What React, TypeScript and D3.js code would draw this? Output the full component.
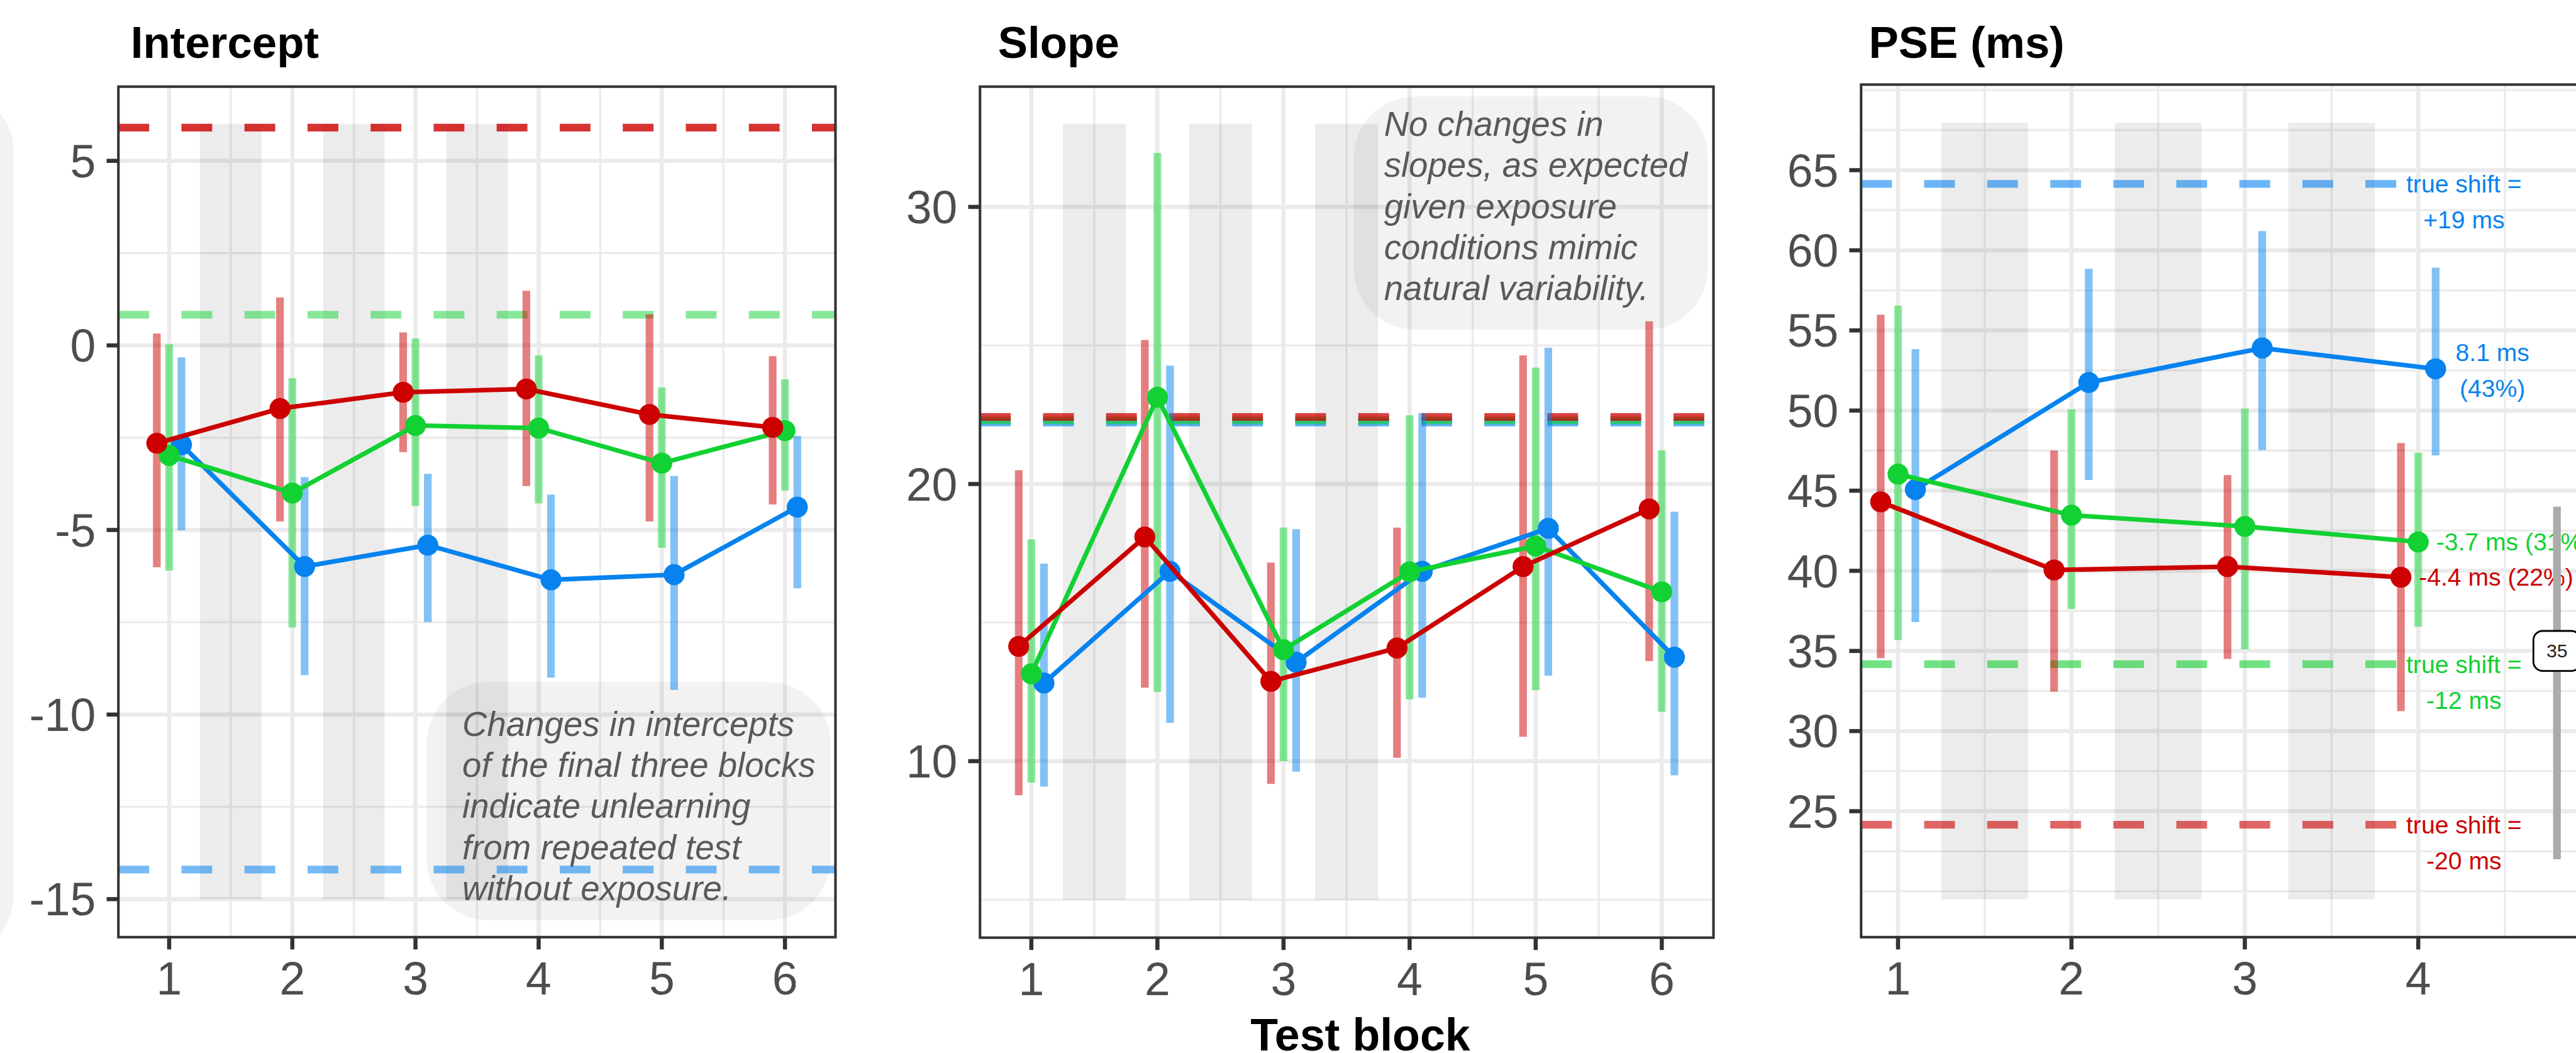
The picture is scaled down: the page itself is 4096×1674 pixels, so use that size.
import React from "react";
import * as d3 from "d3";

// reference is 5024 x 2053, drawn at 0.815
const SCALE = 0.815;
const FONT = "'Liberation Sans', Arial, Helvetica, sans-serif";

const testBlocks = [1, 2, 3, 4, 5, 6];
const pseBlocks = [1, 2, 3, 4];
const exposureAfter = [1, 2, 3];
const xTicks6 = [1, 2, 3, 4, 5, 6];
const xTicks4 = [1, 2, 3, 4];

const seriesKeys = ["red", "green", "blue"];
const seriesColors = ["#CC0000", "#12D133", "#0683EE"];
const seriesDodge = [-0.1, 0, 0.1];

// [estimate, lower, upper] for every test block
const interceptRed = [[-2.65, -6.01, 0.32], [-1.71, -4.77, 1.3], [-1.27, -2.89, 0.35], [-1.18, -3.81, 1.48], [-1.87, -4.77, 0.84], [-2.22, -4.31, -0.29]];
const interceptGreen = [[-2.98, -6.1, 0.03], [-4.0, -7.64, -0.89], [-2.17, -4.35, 0.19], [-2.24, -4.28, -0.27], [-3.19, -5.48, -1.14], [-2.31, -3.93, -0.92]];
const interceptBlue = [[-2.69, -5.01, -0.32], [-5.99, -8.93, -3.57], [-5.41, -7.49, -3.48], [-6.35, -9.0, -4.04], [-6.21, -9.33, -3.54], [-4.38, -6.58, -2.45]];
const interceptTrue = [5.9, 0.83, -14.2];
const interceptYTicks = [5, 0, -5, -10, -15];
const interceptYMinor = [2.5, -2.5, -7.5, -12.5];
const interceptNote = ["Changes in intercepts", "of the final three blocks", "indicate unlearning", "from repeated test", "without exposure."];

const slopeRed = [[14.14, 8.77, 20.5], [18.09, 12.65, 25.2], [12.88, 9.18, 17.17], [14.08, 10.12, 18.43], [17.02, 10.88, 24.64], [19.1, 13.61, 25.87]];
const slopeGreen = [[13.15, 9.23, 18.0], [23.13, 12.5, 31.95], [14.02, 10.0, 18.43], [16.83, 12.23, 22.48], [17.76, 12.56, 24.2], [16.11, 11.78, 21.22]];
const slopeBlue = [[12.82, 9.08, 17.13], [16.85, 11.38, 24.27], [13.57, 9.62, 18.37], [16.85, 12.29, 22.56], [18.4, 13.08, 24.92], [13.75, 9.49, 19.0]];
const slopeTrue = [22.42, 22.3, 22.22];
const slopeYTicks = [30, 20, 10];
const slopeYMinor = [25, 15, 5];
const slopeNote = ["No changes in", "slopes, as expected", "given exposure", "conditions mimic", "natural variability."];

const pseRed = [[44.3, 34.55, 55.98], [40.05, 32.46, 47.5], [40.26, 34.5, 45.97], [39.6, 31.24, 47.98]];
const pseGreen = [[46.03, 35.68, 56.55], [43.47, 37.62, 50.08], [42.77, 35.1, 50.12], [41.8, 36.5, 47.37]];
const pseBlue = [[45.07, 36.8, 53.83], [51.75, 45.67, 58.85], [53.9, 47.53, 61.2], [52.6, 47.2, 58.92]];
const pseTrue = [24.15, 34.17, 64.14];
const pseTrueLabels = [["true shift =", "-20 ms"], ["true shift =", "-12 ms"], ["true shift =", "+19 ms"]];
const pseShiftLabels = [["-4.4 ms (22%)"], ["-3.7 ms (31%)"], ["8.1 ms", "(43%)"]];
const pseYTicks = [65, 60, 55, 50, 45, 40, 35, 30, 25];
const pseYMinor = [70, 67.5, 62.5, 57.5, 52.5, 47.5, 42.5, 37.5, 32.5, 27.5, 22.5, 20];
const pseTrueEnd = 3.9;
const pseMarker = { x: 4.8, y: 35, from: 44, to: 22, label: "35" };

const panels = [
  {
    id: "int", title: "Intercept", titleX: 255,
    left: 231, right: 1630, top: 169, bottom: 1828,
    xDomain: [0.588, 6.41], yDomain: [-16.03, 7.01],
    blocks: testBlocks, xTicks: xTicks6, xGrid: [1, 2, 3, 4, 5, 6], xMinor: [1.5, 2.5, 3.5, 4.5, 5.5],
    yTicks: interceptYTicks, yMinor: interceptYMinor, band: [-15, 6],
    rows: [interceptRed, interceptGreen, interceptBlue], trueVals: interceptTrue,
    dashOpacity: [0.8, 0.5, 0.55], trueEnd: null,
    note: { lines: interceptNote, x0: 3.09, x1: 6.37, y0: -15.57, y1: -9.12, tx: 3.38, ty: -10.58 },
  },
  {
    id: "slope", title: "Slope", titleX: 1947,
    left: 1912, right: 3343, top: 169, bottom: 1829,
    xDomain: [0.593, 6.41], yDomain: [3.63, 34.34],
    blocks: testBlocks, xTicks: xTicks6, xGrid: [1, 2, 3, 4, 5, 6], xMinor: [1.5, 2.5, 3.5, 4.5, 5.5],
    yTicks: slopeYTicks, yMinor: slopeYMinor, band: [5, 33],
    rows: [slopeRed, slopeGreen, slopeBlue], trueVals: slopeTrue,
    dashOpacity: [0.75, 0.65, 0.65], trueEnd: null,
    note: { lines: slopeNote, x0: 3.557, x1: 6.366, y0: 25.57, y1: 33.99, tx: 3.797, ty: 32.56 },
  },
  {
    id: "pse", title: "PSE (ms)", titleX: 3646,
    left: 3631, right: 5124, top: 165, bottom: 1828,
    xDomain: [0.787, 5.2], yDomain: [17.14, 70.34],
    blocks: pseBlocks, xTicks: xTicks4, xGrid: [1, 2, 3, 4, 5], xMinor: [1.5, 2.5, 3.5, 4.5],
    yTicks: pseYTicks, yMinor: pseYMinor, band: [19.5, 67.95],
    rows: [pseRed, pseGreen, pseBlue], trueVals: pseTrue,
    dashOpacity: [0.6, 0.6, 0.6], trueEnd: pseTrueEnd,
    note: null,
  },
];

function Panel({ cfg }) {
  const x = d3.scaleLinear().domain(cfg.xDomain).range([cfg.left, cfg.right]);
  const y = d3.scaleLinear().domain(cfg.yDomain).range([cfg.bottom, cfg.top]);
  const w = cfg.right - cfg.left;
  const h = cfg.bottom - cfg.top;
  const clipId = `clip-${cfg.id}`;
  const drawOrder = [2, 1, 0];

  const line = d3.line().x(d => d[0]).y(d => d[1]);

  return (
    <g>
      <defs>
        <clipPath id={clipId}>
          <rect x={cfg.left} y={cfg.top} width={w} height={h} />
        </clipPath>
      </defs>

      <text x={cfg.titleX} y={113} fontSize={87} fontWeight="bold" fill="#000">{cfg.title}</text>

      <g clipPath={`url(#${clipId})`}>
        <rect x={cfg.left} y={cfg.top} width={w} height={h} fill="#fff" />
        {/* grid */}
        {cfg.yMinor.map(v => (
          <line key={"ym" + v} x1={cfg.left} x2={cfg.right} y1={y(v)} y2={y(v)} stroke="#ebebeb" strokeWidth={4} />
        ))}
        {cfg.xMinor.map(v => (
          <line key={"xm" + v} x1={x(v)} x2={x(v)} y1={cfg.top} y2={cfg.bottom} stroke="#ebebeb" strokeWidth={4} />
        ))}
        {cfg.yTicks.map(v => (
          <line key={"yg" + v} x1={cfg.left} x2={cfg.right} y1={y(v)} y2={y(v)} stroke="#ebebeb" strokeWidth={8} />
        ))}
        {cfg.xGrid.map(v => (
          <line key={"xg" + v} x1={x(v)} x2={x(v)} y1={cfg.top} y2={cfg.bottom} stroke="#ebebeb" strokeWidth={8} />
        ))}

        {/* exposure bands */}
        {exposureAfter.map(b => (
          <rect key={"band" + b} x={x(b + 0.25)} width={x(b + 0.75) - x(b + 0.25)}
            y={y(cfg.band[1])} height={y(cfg.band[0]) - y(cfg.band[1])} fill="#000" fillOpacity={0.075} />
        ))}

        {/* note box */}
        {cfg.note && (
          <g>
            <rect x={x(cfg.note.x0)} width={x(cfg.note.x1) - x(cfg.note.x0)}
              y={y(cfg.note.y1)} height={y(cfg.note.y0) - y(cfg.note.y1)}
              rx={120} ry={120} fill="#000" fillOpacity={0.05} />
            {cfg.note.lines.map((t, i) => (
              <text key={i} x={x(cfg.note.tx)} y={y(cfg.note.ty) + i * 80} fontSize={67}
                fontStyle="italic" fill="#595959">{t}</text>
            ))}
          </g>
        )}

        {/* true values */}
        {drawOrder.map(s => (
          <line key={"true" + s} x1={cfg.left} x2={cfg.trueEnd != null ? x(cfg.trueEnd) : cfg.right}
            y1={y(cfg.trueVals[s])} y2={y(cfg.trueVals[s])}
            stroke={seriesColors[s]} strokeOpacity={cfg.dashOpacity[s]} strokeWidth={15} strokeDasharray="60 63" />
        ))}

        {/* error bars */}
        {drawOrder.map(s => cfg.rows[s].map((r, i) => (
          <line key={"eb" + s + i} x1={x(cfg.blocks[i] + seriesDodge[s])} x2={x(cfg.blocks[i] + seriesDodge[s])}
            y1={y(r[1])} y2={y(r[2])} stroke={seriesColors[s]} strokeOpacity={0.5} strokeWidth={15} />
        )))}

        {/* estimates */}
        {drawOrder.map(s => (
          <g key={"ser" + s}>
            <path d={line(cfg.rows[s].map((r, i) => [x(cfg.blocks[i] + seriesDodge[s]), y(r[0])]))}
              fill="none" stroke={seriesColors[s]} strokeWidth={9} strokeLinejoin="round" />
            {cfg.rows[s].map((r, i) => (
              <circle key={i} cx={x(cfg.blocks[i] + seriesDodge[s])} cy={y(r[0])} r={20.5} fill={seriesColors[s]} />
            ))}
          </g>
        ))}
      </g>

      <rect x={cfg.left} y={cfg.top} width={w} height={h} fill="none" stroke="#333" strokeWidth={5} />

      {/* axes */}
      {cfg.yTicks.map(v => (
        <g key={"yt" + v}>
          <line x1={cfg.left - 23} x2={cfg.left} y1={y(v)} y2={y(v)} stroke="#333" strokeWidth={8} />
          <text x={cfg.left - 44} y={y(v) + 32} fontSize={90} fill="#4D4D4D" textAnchor="end">{v}</text>
        </g>
      ))}
      {cfg.xTicks.map(v => (
        <g key={"xt" + v}>
          <line x1={x(v)} x2={x(v)} y1={cfg.bottom} y2={cfg.bottom + 24} stroke="#333" strokeWidth={8} />
          <text x={x(v)} y={cfg.bottom + 112} fontSize={90} fill="#4D4D4D" textAnchor="middle">{v}</text>
        </g>
      ))}
    </g>
  );
}

function PseExtras() {
  const cfg = panels[2];
  const x = d3.scaleLinear().domain(cfg.xDomain).range([cfg.left, cfg.right]);
  const y = d3.scaleLinear().domain(cfg.yDomain).range([cfg.bottom, cfg.top]);
  const last = pseBlocks.length - 1;
  return (
    <g fontSize={48}>
      {seriesKeys.map((k, s) => (
        <g key={"tl" + k} fill={seriesColors[s]} textAnchor="middle">
          {pseTrueLabels[s].map((t, i) => (
            <text key={i} x={x(pseTrueEnd) + 123} y={y(pseTrue[s]) + 17 + i * 70}>{t}</text>
          ))}
        </g>
      ))}
      {seriesKeys.map((k, s) => {
        const r = cfg.rows[s][last];
        const px = x(pseBlocks[last] + seriesDodge[s]);
        const lines = pseShiftLabels[s];
        if (lines.length === 1) {
          return (
            <text key={"sl" + k} x={px + 35} y={y(r[0]) + 17} fill={seriesColors[s]}>{lines[0]}</text>
          );
        }
        return (
          <g key={"sl" + k} fill={seriesColors[s]} textAnchor="middle">
            {lines.map((t, i) => (
              <text key={i} x={px + 111} y={y(r[0]) - 15 + i * 70}>{t}</text>
            ))}
          </g>
        );
      })}
      <line x1={x(pseMarker.x)} x2={x(pseMarker.x)} y1={y(pseMarker.from)} y2={y(pseMarker.to)}
        stroke="#ababab" strokeWidth={15} />
      <rect x={x(pseMarker.x) - 46} y={y(pseMarker.y) - 39} width={92} height={78} rx={18}
        fill="#fff" stroke="#000" strokeWidth={3.5} />
      <text x={x(pseMarker.x)} y={y(pseMarker.y) + 13} fontSize={37} fill="#222" textAnchor="middle">{pseMarker.label}</text>
    </g>
  );
}

export default function App() {
  return (
    <svg width={4096} height={1674} style={{ position: "absolute", left: 0, top: 0, display: "block", background: "#fff" }}>
      <g transform={`scale(${SCALE})`} fontFamily={FONT}>
        <rect x={-300} y={176} width={327} height={1690} rx={120} ry={120} fill="#000" fillOpacity={0.05} />
        {panels.map(p => <Panel key={p.id} cfg={p} />)}
        <PseExtras />
        <text x={2654} y={2049} fontSize={88} fontWeight="bold" textAnchor="middle" fill="#000">Test block</text>
      </g>
    </svg>
  );
}
